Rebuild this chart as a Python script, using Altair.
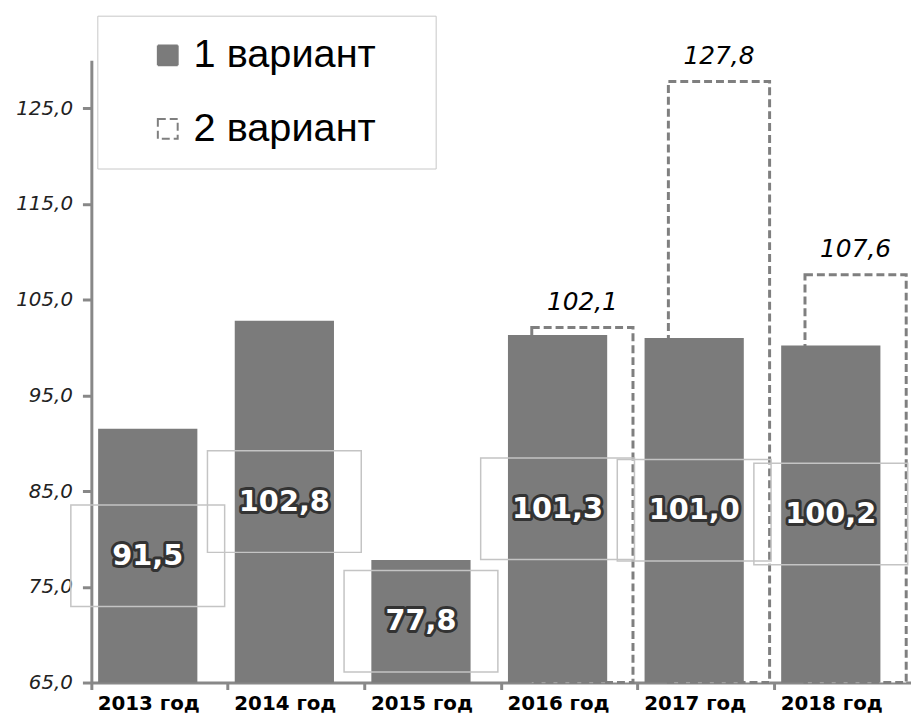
import altair as alt
import pandas as pd

# ---- data ----
years = ["2013 год", "2014 год", "2015 год", "2016 год", "2017 год", "2018 год"]
variant1 = [91.5, 102.8, 77.8, 101.3, 101.0, 100.2]
years2 = ["2016 год", "2017 год", "2018 год"]
variant2 = [102.1, 127.8, 107.6]
series_names = ["1 вариант", "2 вариант"]
y_ticks = [65, 75, 85, 95, 105, 115, 125]
y_min, y_max = 65, 130

df1 = pd.DataFrame({"year": years, "v": variant1, "series": series_names[0]})
df2 = pd.DataFrame({"year": years2, "v": variant2, "series": series_names[1]})

GREY = "#7b7b7b"
AXIS_GREY = "#888888"

x_enc = alt.X(
    "year:N",
    sort=years,
    scale=alt.Scale(domain=years, paddingInner=0, paddingOuter=0),
    axis=alt.Axis(
        title=None,
        labelAngle=0,
        bandPosition=0,
        labelOffset=-11,
        labelFont="DejaVu Sans",
        labelFontWeight="bold",
        labelFontSize=20,
        labelColor="#000000",
        labelPadding=4,
        tickSize=7,
        tickWidth=3,
        tickColor=AXIS_GREY,
        domainColor=AXIS_GREY,
        domainWidth=3,
        labelBaseline="top",
    ),
)
y_scale = alt.Scale(domain=[y_min, y_max], zero=False, nice=False)
y_enc = alt.Y(
    "v:Q",
    scale=y_scale,
    axis=alt.Axis(
        title=None,
        values=y_ticks,
        grid=False,
        labelExpr="replace(format(datum.value, '.1f'), '.', ',')",
        labelFont="DejaVu Sans",
        labelFontStyle="italic",
        labelFontSize=20,
        labelColor="#222222",
        labelPadding=10,
        tickSize=9,
        tickWidth=3,
        tickColor=AXIS_GREY,
        domainColor=AXIS_GREY,
        domainWidth=3,
    ),
)

legend = alt.Legend(
    title=None,
    orient="none",
    legendX=6,
    legendY=-45,
    padding=20,
    fillColor="white",
    strokeColor="#c8c8c8",
    labelFont="Liberation Sans",
    labelFontSize=40,
    labelColor="#000000",
    labelLimit=500,
    labelExpr="datum.label + '\u00a0\u2800'",
    rowPadding=34,
    symbolType="square",
    symbolSize=400,
    symbolStrokeWidth=2,
    symbolOffset=31,
    labelOffset=6,
)

fill_enc = alt.Fill("series:N", scale=alt.Scale(domain=series_names, range=[GREY, "white"]), legend=legend)
stroke_enc = alt.Stroke("series:N", scale=alt.Scale(domain=series_names, range=[GREY, "#7f7f7f"]), legend=legend)
dash_enc = alt.StrokeDash("series:N", scale=alt.Scale(domain=series_names, range=[[1, 0], [8, 4]]), legend=legend)

bars2 = alt.Chart(df2).mark_bar(width=102, xOffset=13, strokeWidth=3).encode(
    x=x_enc, y=y_enc, y2=alt.datum(y_min), fill=fill_enc, stroke=stroke_enc, strokeDash=dash_enc
)
bars1 = alt.Chart(df1).mark_bar(width=100, xOffset=-12, strokeWidth=0).encode(
    x=x_enc, y=y_enc, y2=alt.datum(y_min), fill=fill_enc, stroke=stroke_enc, strokeDash=dash_enc
)

lab1 = alt.Chart(df1).transform_calculate(
    mid=f"(datum.v + {y_min}) / 2",
    lbl="replace(format(datum.v, '.1f'), '.', ',')",
)
boxes = lab1.mark_point(
    shape="M-1,-0.66H1V0.66H-1Z", size=24025, filled=False,
    stroke="#c4c4c4", strokeWidth=1.5, xOffset=-12, opacity=1,
).encode(x=x_enc, y=alt.Y("mid:Q", scale=y_scale))
halo = lab1.mark_text(
    font="DejaVu Sans", fontWeight="bold", fontSize=29, fill="#333333",
    stroke="#333333", strokeWidth=6, strokeJoin="round", xOffset=-12, baseline="middle",
).encode(x=x_enc, y=alt.Y("mid:Q", scale=y_scale), text="lbl:N")
white = lab1.mark_text(
    font="DejaVu Sans", fontWeight="bold", fontSize=29, fill="white",
    xOffset=-12, baseline="middle",
).encode(x=x_enc, y=alt.Y("mid:Q", scale=y_scale), text="lbl:N")

top = alt.Chart(df2).transform_calculate(
    lbl="replace(format(datum.v, '.1f'), '.', ',')"
).mark_text(
    font="DejaVu Sans", fontStyle="italic", fontSize=25, color="#000000",
    xOffset=13, baseline="bottom", dy=-13,
).encode(x=x_enc, y=y_enc, text="lbl:N")

chart = alt.layer(bars2, bars1, boxes, halo, white, top).properties(
    width=826,
    height=627,
    background="white",
    autosize=alt.AutoSizeParams(type="none"),
    padding={"left": 84, "top": 50, "right": 0, "bottom": 35},
).configure_view(stroke=None)

chart.save("out.html", embed_options={"renderer": "svg", "actions": False})
